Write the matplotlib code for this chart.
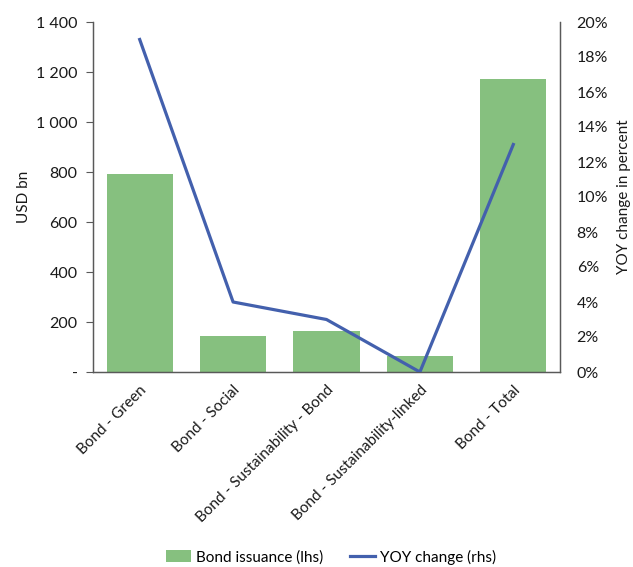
import matplotlib
matplotlib.use("Agg")
import matplotlib.pyplot as plt
from matplotlib.ticker import FuncFormatter, MultipleLocator

plt.rcParams['font.family'] = ['Lato', 'DejaVu Sans']

categories = ["Bond - Green", "Bond - Social", "Bond - Sustainability - Bond",
              "Bond - Sustainability-linked", "Bond - Total"]
issuance = [792, 144, 164, 64, 1172]          # USD bn
yoy_change = [19, 4, 3, 0, 13]                # percent

bar_color = "#86c07f"
line_color = "#4360ad"
spine_color = "#595959"

fig = plt.figure(figsize=(6.33, 5.67), dpi=100)
ax = fig.add_axes([93/633, 1 - 372/567, (560-93)/633, (372-22)/567])
ax2 = ax.twinx()

x = range(len(categories))
bars = ax.bar(x, issuance, width=0.71, color=bar_color, zorder=2,
              label="Bond issuance (lhs)")
line, = ax2.plot(x, yoy_change, color=line_color, lw=2.3, zorder=3,
                 label="YOY change (rhs)")
ax.set_zorder(ax2.get_zorder() - 1)
ax2.patch.set_visible(False)

ax.set_xlim(-0.5, len(categories) - 0.5)
ax.set_ylim(0, 1400)
ax2.set_ylim(0, 20)
ax.yaxis.set_major_locator(MultipleLocator(200))
ax2.yaxis.set_major_locator(MultipleLocator(2))

def lhs_fmt(v, pos):
    if v == 0:
        return "-"
    return f"{int(v):,}".replace(",", " ")

ax.yaxis.set_major_formatter(FuncFormatter(lhs_fmt))
ax2.yaxis.set_major_formatter(FuncFormatter(lambda v, p: f"{int(round(v))}%"))

ax.set_xticks(list(x))
ax.set_xticklabels(categories, rotation=45, ha="right", rotation_mode="anchor",
                   fontsize=11, color="#1a1a1a")
ax.tick_params(axis="x", length=0, pad=8)
ax.tick_params(axis="y", length=5, width=0.8, color=spine_color,
               labelsize=11.5, labelcolor="#1a1a1a", pad=6)
ax2.tick_params(axis="y", length=0, labelsize=11.5, labelcolor="#1a1a1a", pad=12)

for a in (ax, ax2):
    a.spines["top"].set_visible(False)
    for s in ("left", "right", "bottom"):
        a.spines[s].set_color(spine_color)
        a.spines[s].set_linewidth(0.9)

ax.set_ylabel("USD bn", fontsize=11, color="#1a1a1a", labelpad=4)
ax2.set_ylabel("YOY change in percent", fontsize=11, color="#1a1a1a", labelpad=6)

fig.legend(handles=[bars, line], labels=["Bond issuance (lhs)", "YOY change (rhs)"],
           loc="center", bbox_to_anchor=(331/633, 1 - 557/567), ncol=2, frameon=False,
           fontsize=11, handlelength=1.65, handleheight=0.8, columnspacing=1.75,
           handletextpad=0.3)

fig.savefig("out.png", dpi=100)
